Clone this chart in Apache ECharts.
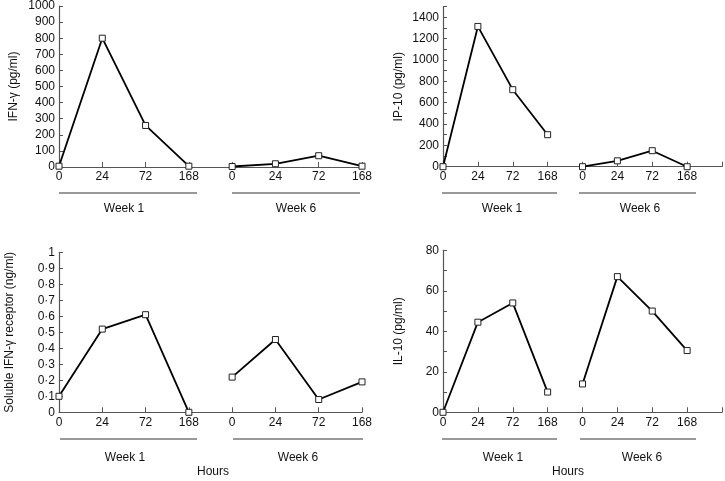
<!DOCTYPE html>
<html>
<head>
<meta charset="utf-8">
<script src="https://cdn.jsdelivr.net/npm/echarts@6/dist/echarts.min.js"></script>
<style>html,body{margin:0;padding:0;background:#fff}#c{width:725px;height:481px}</style>
</head>
<body>
<div id="c"></div>
<script>
const xTickLabels = ['0','24','72','168','0','24','72','168',''];
const weekLabels = ['Week 1','Week 6'];
const ifnWeek1 = [5, 800, 258, 5];
const ifnWeek6 = [3, 20, 70, 5];
const ip10Week1 = [0, 1315, 722, 300];
const ip10Week6 = [0, 55, 150, 0];
const sifnrWeek1 = [0.1, 0.52, 0.61, 0];
const sifnrWeek6 = [0.22, 0.455, 0.08, 0.19];
const il10Week1 = [0, 44.5, 54, 10];
const il10Week6 = [14, 67, 50, 30.5];

const FONT = 'Liberation Sans';
const AXIS_COLOR = '#555';
const grids = [
  {left: 59, top: 6, width: 303, height: 161},
  {left: 443, top: 6.7, width: 280.5, height: 160},
  {left: 59, top: 252.3, width: 303, height: 160},
  {left: 443, top: 250.3, width: 280.5, height: 162}
];
function xAxis(gi, max) {
  return {
    type: 'value', gridIndex: gi, min: 0, max: max, interval: 1,
    axisLine: {lineStyle: {color: AXIS_COLOR, width: 1.2}},
    axisTick: {inside: true, length: 5, lineStyle: {color: AXIS_COLOR}},
    axisLabel: {color: '#111', fontFamily: FONT, fontSize: 12, margin: 4,
      formatter: v => xTickLabels[v] || ''},
    splitLine: {show: false}
  };
}
function yAxis(gi, max, interval, name, nameGap, fmt) {
  return {
    type: 'value', gridIndex: gi, min: 0, max: max, interval: interval,
    name: name, nameLocation: 'middle', nameGap: nameGap,
    nameTextStyle: {color: '#111', fontFamily: FONT, fontSize: 12},
    axisLine: {show: true, lineStyle: {color: AXIS_COLOR, width: 1.2}},
    axisTick: {inside: true, length: 4, lineStyle: {color: AXIS_COLOR}},
    axisLabel: {color: '#111', fontFamily: FONT, fontSize: 12, margin: 4, formatter: fmt},
    splitLine: {show: false}
  };
}
function series(gi, vals, offset) {
  return {
    type: 'line', xAxisIndex: gi, yAxisIndex: gi,
    data: vals.map((v, i) => [offset + i, v]),
    symbol: 'rect', symbolSize: 6, clip: false,
    lineStyle: {color: '#000', width: 1.8},
    itemStyle: {color: '#fff', borderColor: '#222', borderWidth: 1},
    z: 5
  };
}
const graphic = [];
function decor(lineY, segs, textY, hoursX) {
  segs.forEach((s, k) => {
    graphic.push({type: 'line', shape: {x1: s[0], y1: lineY, x2: s[1], y2: lineY},
      style: {stroke: '#777', lineWidth: 1.5}});
    graphic.push({type: 'text', x: s[2], y: textY,
      style: {text: weekLabels[k], font: '12px ' + FONT, fill: '#111', align: 'center', verticalAlign: 'middle'}});
  });
  if (hoursX) graphic.push({type: 'text', x: hoursX, y: textY + 14,
      style: {text: 'Hours', font: '12px ' + FONT, fill: '#111', align: 'center', verticalAlign: 'middle'}});
}
decor(193, [[59, 197, 124], [232, 360, 296]], 209);
decor(193, [[442, 557, 502], [579, 696, 640]], 209);
decor(439, [[60, 197, 125], [233, 363, 298]], 458, 213);
decor(439, [[442, 557, 503], [580, 696, 642]], 458, 568);

const option = {
  animation: false,
  backgroundColor: '#fff',
  grid: grids,
  xAxis: [xAxis(0, 7), xAxis(1, 8), xAxis(2, 7), xAxis(3, 8)],
  yAxis: [
    yAxis(0, 1000, 100, 'IFN-γ (pg/ml)', 39, v => String(v)),
    yAxis(1, 1500, 100, 'IP-10 (pg/ml)', 38, v => (v % 200 === 0 ? String(v) : '')),
    yAxis(2, 1, 0.1, 'Soluble IFN-γ receptor (ng/ml)', 43, v => {
      const r = Math.round(v * 10) / 10; return r === 0 ? '0' : r === 1 ? '1' : r.toFixed(1).replace('.', '·');
    }),
    yAxis(3, 80, 10, 'IL-10 (pg/ml)', 38, v => (v % 20 === 0 ? String(v) : ''))
  ],
  series: [
    series(0, ifnWeek1, 0), series(0, ifnWeek6, 4),
    series(1, ip10Week1, 0), series(1, ip10Week6, 4),
    series(2, sifnrWeek1, 0), series(2, sifnrWeek6, 4),
    series(3, il10Week1, 0), series(3, il10Week6, 4)
  ],
  graphic: graphic
};
const chart = echarts.init(document.getElementById('c'), null, {renderer: 'canvas'});
chart.setOption(option);
</script>
</body>
</html>
